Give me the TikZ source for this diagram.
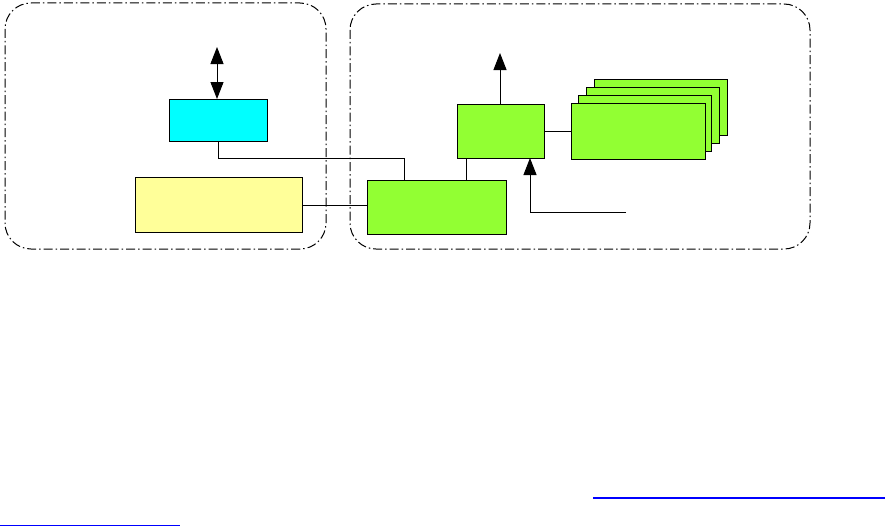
\documentclass[tikz,border=0pt]{standalone}
\usetikzlibrary{arrows.meta}
\definecolor{cyanbox}{RGB}{0,255,255}
\definecolor{yellowbox}{RGB}{255,255,153}
\definecolor{greenbox}{RGB}{146,255,51}
\definecolor{linkblue}{RGB}{0,0,255}
\tikzset{
  grp/.style={draw, line width=1pt, rounded corners=26pt, dash pattern=on 9pt off 3pt on 1.5pt off 3pt},
  blk/.style={draw, line width=1pt, anchor=north west, inner sep=0pt},
  wire/.style={draw, line width=1pt},
  tri/.style={-{Triangle[width=13pt,length=17pt]}},
  dtri/.style={{Triangle[width=13pt,length=17pt]}-{Triangle[width=13pt,length=17pt]}},
  ul/.style={draw=linkblue, line width=1.2pt}
}
\begin{document}
\begin{tikzpicture}[x=1pt,y=-1pt]
\useasboundingbox (0,0) rectangle (885,527);
% group frames
\draw[grp] (5,3) rectangle (326,249);
\draw[grp] (350,4) rectangle (810,249);
% blocks
\node[blk, fill=cyanbox, minimum width=98pt, minimum height=42pt] (cy) at (169,99) {};
\node[blk, fill=yellowbox, minimum width=167pt, minimum height=55pt] (ye) at (135,177) {};
\node[blk, fill=greenbox, minimum width=139pt, minimum height=54pt] (ga) at (367,180) {};
\node[blk, fill=greenbox, minimum width=87pt, minimum height=54pt] (gb) at (457,104) {};
% stack
\node[blk, fill=greenbox, minimum width=133pt, minimum height=56pt] (s4) at (594,79) {};
\node[blk, fill=greenbox, minimum width=133pt, minimum height=56pt] (s3) at (586,87) {};
\node[blk, fill=greenbox, minimum width=133pt, minimum height=56pt] (s2) at (578,95) {};
\node[blk, fill=greenbox, minimum width=134pt, minimum height=56pt] (s1) at (571,103) {};
% free ends
\coordinate (cytop) at (217,47);
\coordinate (gbtop) at (500,53);
\coordinate (inend) at (626,212);
% connectors
\draw[wire, dtri] (cytop) -- (cytop |- cy.north);
\draw[wire] (cy.south) |- (404,158) -- (404,180);
\draw[wire] (ye.east) -- (ye.east -| ga.west);
\draw[wire] (466,180) -- (466,158);
\draw[wire, tri] (gbtop |- gb.north) -- (gbtop);
\draw[wire, tri] (inend) -| (530,158);
\draw[wire] (gb.east) -- (gb.east -| s1.west);
% link underlines
\draw[ul] (593,498) -- (885,498);
\draw[ul] (0,525.5) -- (180,525.5);
\end{tikzpicture}
\end{document}
